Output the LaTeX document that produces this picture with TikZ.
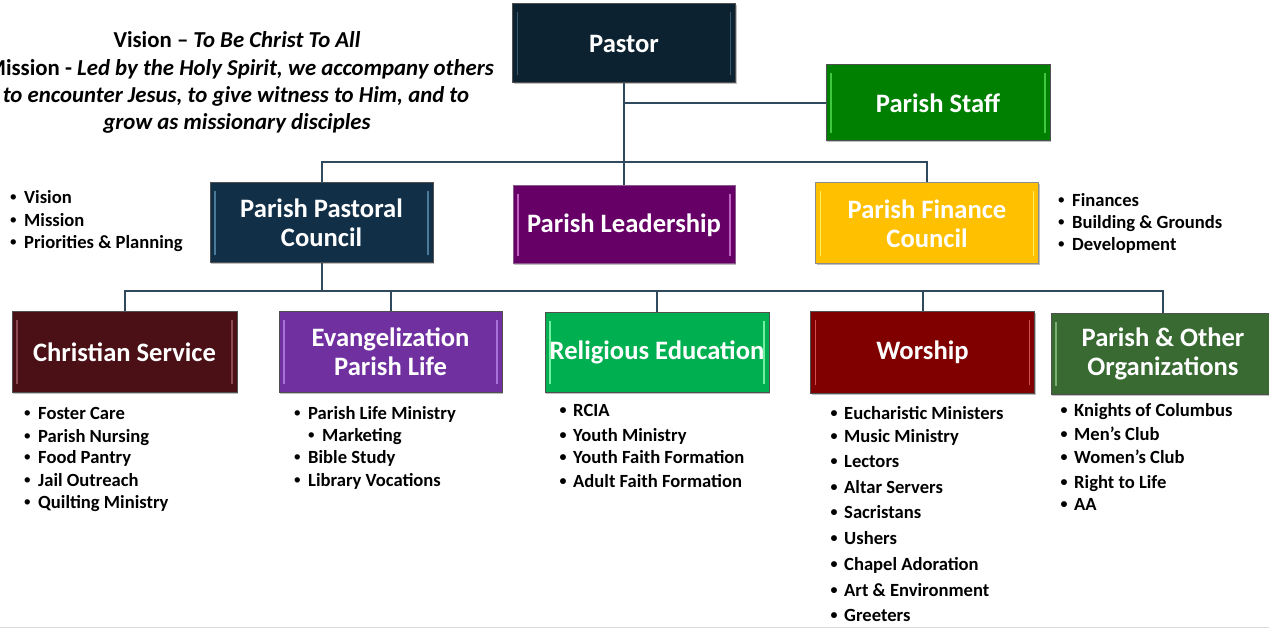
\documentclass[tikz,border=0pt]{standalone}
\usepackage{fontspec}
\setmainfont{Carlito}
\newfontfamily\bulfont{Liberation Sans}
\usetikzlibrary{shadows}
\definecolor{connc}{HTML}{2E4A5C}
\definecolor{cpastor}{HTML}{0C2230}
\definecolor{hpastor}{HTML}{3A5A70}
\definecolor{cstaff}{HTML}{008000}
\definecolor{hstaff}{HTML}{40C840}
\definecolor{cppc}{HTML}{113048}
\definecolor{hppc}{HTML}{4A7A9A}
\definecolor{clead}{HTML}{660066}
\definecolor{hlead}{HTML}{C060C0}
\definecolor{blead}{HTML}{8A5A8A}
\definecolor{cfin}{HTML}{FFC000}
\definecolor{hfin}{HTML}{FFF060}
\definecolor{ccs}{HTML}{4A1016}
\definecolor{hcs}{HTML}{8A4A50}
\definecolor{cev}{HTML}{7030A0}
\definecolor{hev}{HTML}{A870D8}
\definecolor{cre}{HTML}{00B050}
\definecolor{hre}{HTML}{70F0A0}
\definecolor{cwo}{HTML}{800000}
\definecolor{hwo}{HTML}{D05050}
\definecolor{cpo}{HTML}{386A32}
\definecolor{hpo}{HTML}{78B070}
\definecolor{bdr}{HTML}{505050}
\newcommand\itm[1]{\makebox[0pt][r]{{\bulfont\textbullet}\hspace{7.5pt}}#1}
\newcommand\itmb[1]{\makebox[0pt][r]{\raisebox{1.3pt}{\fontsize{14}{14}\selectfont\textbullet}\hspace{6.5pt}}#1}
\begin{document}
\begin{tikzpicture}[x=1pt,y=-1pt,
  conn/.style={draw=connc, line width=2pt},
  box/.style n args={3}{rectangle, fill=#1, draw=#3, line width=1pt,
    text=white, align=center, inner sep=2pt,
    font=\fontsize{26.6}{29}\selectfont\bfseries,
    drop shadow={shadow xshift=1.2pt, shadow yshift=-1.5pt, fill=black, opacity=0.25},
    path picture={
      \draw[#2, line width=1.3pt]
        ([xshift=5pt,yshift=-8pt]path picture bounding box.north west) --
        ([xshift=5pt,yshift=8pt]path picture bounding box.south west)
        ([xshift=-5pt,yshift=-8pt]path picture bounding box.north east) --
        ([xshift=-5pt,yshift=8pt]path picture bounding box.south east);}},
  item/.style={anchor=base west, inner sep=0pt, font=\fontsize{18.6}{22}\selectfont\bfseries},
  ttl/.style={anchor=base, inner sep=0pt, font=\fontsize{22.8}{27}\selectfont\bfseries}]
\clip (0,0) rectangle (1269,628);
\fill[white] (0,0) rectangle (1269,628);
\draw[black!15, line width=1pt] (0,627) -- (1269,627);

% title
\node[ttl] (t1) at (237,48) {Vision -- \textit{To Be Christ To All}};
\node[ttl] (t2) at (240,76) {Mission - \textit{Led by the Holy Spirit, we accompany others}};
\node[ttl] (t3) at (236,103) {\textit{to encounter Jesus, to give witness to Him, and to}};
\node[ttl] (t4) at (237,130) {\textit{grow as missionary disciples}};

% boxes
\node[box={cpastor}{hpastor}{bdr}, minimum width=223, minimum height=79] (pastor) at (624,43.5) {Pastor};
\node[box={cstaff}{hstaff}{bdr}, minimum width=224, minimum height=76] (staff) at (938,103) {Parish Staff};
\node[box={cppc}{hppc}{bdr}, minimum width=223, minimum height=80] (ppc) at (321.5,223) {Parish Pastoral\\Council};
\node[box={clead}{hlead}{blead}, minimum width=222, minimum height=78] (lead) at (624,225) {Parish Leadership};
\node[box={cfin}{hfin}{black!45}, minimum width=223, minimum height=81] (fin) at (927,223.5) {Parish Finance\\Council};
\node[box={ccs}{hcs}{bdr}, minimum width=225, minimum height=80] (cs) at (124.5,352) {Christian Service};
\node[box={cev}{hev}{bdr}, minimum width=223, minimum height=80] (ev) at (390.5,352) {Evangelization\\Parish Life};
\node[box={cre}{hre}{bdr}, minimum width=224, minimum height=79] (re) at (657,352.5) {Religious Education};
\node[box={cwo}{hwo}{bdr}, minimum width=224, minimum height=81] (wo) at (922.5,352.5) {Worship};
\node[box={cpo}{hpo}{bdr}, minimum width=224, minimum height=80] (po) at (1163,354) {Parish \& Other\\Organizations};

% connectors
\coordinate (busA) at (0,162);
\coordinate (busB) at (0,291.5);
\draw[conn] (pastor.south) -- (lead.north);
\draw[conn] (staff.west) -- (staff.west -| pastor.south);
\draw[conn] (ppc.north) |- (fin.north |- busA) -- (fin.north);
\draw[conn] (ppc.south) -- (ppc.south |- busB);
\draw[conn] (cs.north) |- (po.north |- busB) -- (po.north);
\draw[conn] (ev.north) -- (ev.north |- busB);
\draw[conn] (re.north) -- (re.north |- busB);
\draw[conn] (wo.north) -- (wo.north |- busB);

% lists
\foreach \t/\y [count=\i] in {Vision/204, Mission/227, Priorities \& Planning/249}
  \node[item] (pv\i) at (24,\y) {\itm{\t}};
\foreach \t/\y [count=\i] in {Finances/207, Building \& Grounds/229, Development/251}
  \node[item] (fl\i) at (1072,\y) {\itm{\t}};
\foreach \t/\y [count=\i] in {Foster Care/419, Parish Nursing/442, Food Pantry/463, Jail Outreach/486, Quilting Ministry/508}
  \node[item] (cl\i) at (38,\y) {\itm{\t}};
\node[item] (el1) at (308,419) {\itm{Parish Life Ministry}};
\node[item] (el2) at (322,441) {\itm{Marketing}};
\node[item] (el3) at (308,463) {\itm{Bible Study}};
\node[item] (el4) at (308,486) {\itm{Library Vocations}};
\foreach \t/\y [count=\i] in {RCIA/416, Youth Ministry/441, Youth Faith Formation/463, Adult Faith Formation/487}
  \node[item] (rl\i) at (573,\y) {\itmb{\t}};
\foreach \t/\y [count=\i] in {Eucharistic Ministers/419, Music Ministry/442, Lectors/467, Altar Servers/493, Sacristans/518, Ushers/544, Chapel Adoration/570, Art \& Environment/596, Greeters/621}
  \node[item] (wl\i) at (844,\y) {\itmb{\t}};
\foreach \t/\y [count=\i] in {Knights of Columbus/416, Men’s Club/440, Women’s Club/463, Right to Life/488, AA/510}
  \node[item] (ol\i) at (1074,\y) {\itmb{\t}};
\end{tikzpicture}
\end{document}
